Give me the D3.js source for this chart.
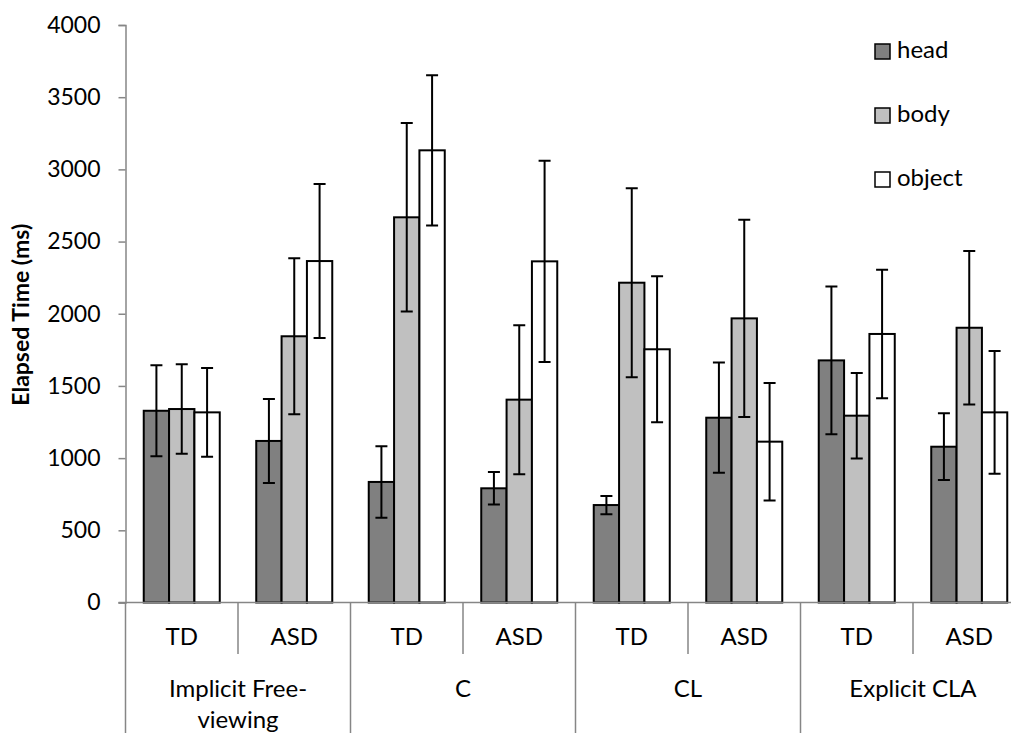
<!DOCTYPE html>
<html>
<head>
<meta charset="utf-8">
<script src="https://cdnjs.cloudflare.com/ajax/libs/d3/7.8.5/d3.min.js"></script>
<style>
  body { margin: 0; background: #fff; }
  svg { display: block; font-family: Lato, "Open Sans", sans-serif; }
</style>
</head>
<body>
<svg id="chart" width="1011" height="733"></svg>
<script>
// data
const series = ["head", "body", "object"]
const seriesColors = ["#808080", "#c0c0c0", "#ffffff"]
const groups = ["TD", "ASD", "TD", "ASD", "TD", "ASD", "TD", "ASD"]
const conditions = [["Implicit Free-", "viewing"], ["C"], ["CL"], ["Explicit CLA"]]

const headMean = [1328, 1119, 835, 791, 675, 1280, 1677, 1079]
const headErr = [315, 291, 248, 113, 63, 382, 512, 231]
const bodyMean = [1340, 1844, 2668, 1405, 2215, 1968, 1294, 1903]
const bodyErr = [310, 540, 653, 516, 654, 683, 296, 532]
const objectMean = [1317, 2365, 3132, 2363, 1754, 1114, 1860, 1317]
const objectErr = [307, 533, 520, 697, 505, 407, 445, 425]

const yTicks = [0, 500, 1000, 1500, 2000, 2500, 3000, 3500, 4000]

const means = [headMean, bodyMean, objectMean]
const errs = [headErr, bodyErr, objectErr]

const svg = d3.select("#chart")
const axisGrey = "#868686"
const fontFam = "Lato, 'Open Sans', sans-serif"

const plotLeft = 125.5, plotRight = 1025.5, plotTop = 25, plotBottom = 602.5

// scales
const x0 = d3.scaleBand()
  .domain(d3.range(groups.length))
  .range([plotLeft, plotRight])
  .padding(0)

const x1 = d3.scaleBand()
  .domain(series)
  .range([0, x0.bandwidth()])
  .paddingInner(0)
  .paddingOuter(0.72)

const y = d3.scaleLinear()
  .domain([0, 4000])
  .range([plotBottom, plotTop])

// flatten into records
let records = []
groups.forEach((g, i) => {
  series.forEach((s, j) => {
    records.push({ gi: i, s: s, si: j, v: means[j][i], e: errs[j][i] })
  })
})

// y axis
const yAxis = d3.axisLeft(y)
  .tickValues(yTicks)
  .tickFormat(d3.format("d"))
  .tickSize(7)
  .tickPadding(18)

const yg = svg.append("g")
  .attr("transform", "translate(" + plotLeft + ",0)")
  .call(yAxis)
  .attr("font-family", fontFam)
  .attr("font-size", 23)
yg.select(".domain").attr("stroke", axisGrey).attr("stroke-width", 1.5)
yg.selectAll(".tick line").attr("stroke", axisGrey).attr("stroke-width", 1.5)
yg.selectAll(".tick text").attr("fill", "#000")

svg.append("text")
  .attr("transform", "translate(29," + ((plotTop + plotBottom) / 2 + 1) + ") rotate(-90)")
  .attr("text-anchor", "middle")
  .style("font-size", "23px")
  .style("font-weight", "bold")
  .text("Elapsed Time (ms)")

// bars
const bars = svg.append("g").attr("class", "bars")
bars.selectAll("rect")
  .data(records)
  .join("rect")
  .attr("x", d => x0(d.gi) + x1(d.s))
  .attr("y", d => y(d.v))
  .attr("width", x1.bandwidth())
  .attr("height", d => y(0) - y(d.v))
  .attr("fill", d => seriesColors[d.si])
  .attr("stroke", "#000")
  .attr("stroke-width", 2)

// error bars
const capW = 12
const eb = svg.append("g").attr("class", "errorbars")
  .attr("stroke", "#000")
  .attr("stroke-width", 2)
  .attr("fill", "none")

eb.selectAll("path")
  .data(records)
  .join("path")
  .attr("d", d => {
    let cx = x0(d.gi) + x1(d.s) + x1.bandwidth() / 2
    let yt = y(d.v + d.e), yb = y(d.v - d.e)
    return "M" + (cx - capW / 2) + "," + yt + "H" + (cx + capW / 2) +
      "M" + cx + "," + yt + "V" + yb +
      "M" + (cx - capW / 2) + "," + yb + "H" + (cx + capW / 2)
  })

// x axis line
svg.append("line")
  .attr("x1", plotLeft - 7).attr("x2", 1011)
  .attr("y1", plotBottom).attr("y2", plotBottom)
  .attr("stroke", axisGrey).attr("stroke-width", 1.5)

// category dividers: short between TD/ASD, long between conditions
const dividers = d3.range(groups.length + 1)
svg.append("g").selectAll("line")
  .data(dividers)
  .join("line")
  .attr("x1", i => plotLeft + i * x0.step())
  .attr("x2", i => plotLeft + i * x0.step())
  .attr("y1", plotBottom)
  .attr("y2", i => i % 2 == 0 ? 733 : 654)
  .attr("stroke", axisGrey)
  .attr("stroke-width", 1.5)

// group labels
svg.append("g").selectAll("text")
  .data(groups)
  .join("text")
  .attr("x", (d, i) => x0(i) + x0.bandwidth() / 2)
  .attr("y", 645)
  .attr("text-anchor", "middle")
  .style("font-size", "24px")
  .text(d => d)

// condition labels
const condG = svg.append("g").selectAll("text")
  .data(conditions)
  .join("text")
  .attr("x", (d, i) => x0(i * 2) + x0.step())
  .attr("y", 697)
  .attr("text-anchor", "middle")
  .style("font-size", "24px")

condG.selectAll("tspan")
  .data(d => d)
  .join("tspan")
  .attr("x", function() { return d3.select(this.parentNode).attr("x") })
  .attr("dy", (d, i) => i == 0 ? 0 : 31)
  .text(d => d)

// legend
const legend = svg.append("g").attr("transform", "translate(875,44)")
const li = legend.selectAll("g")
  .data(series)
  .join("g")
  .attr("transform", (d, i) => "translate(0," + i * 64 + ")")
li.append("rect")
  .attr("width", 15).attr("height", 15)
  .attr("fill", (d, i) => seriesColors[i])
  .attr("stroke", "#000").attr("stroke-width", 1.5)
li.append("text")
  .attr("x", 22).attr("y", 14)
  .style("font-size", "24px")
  .text(d => d)
</script>
</body>
</html>
